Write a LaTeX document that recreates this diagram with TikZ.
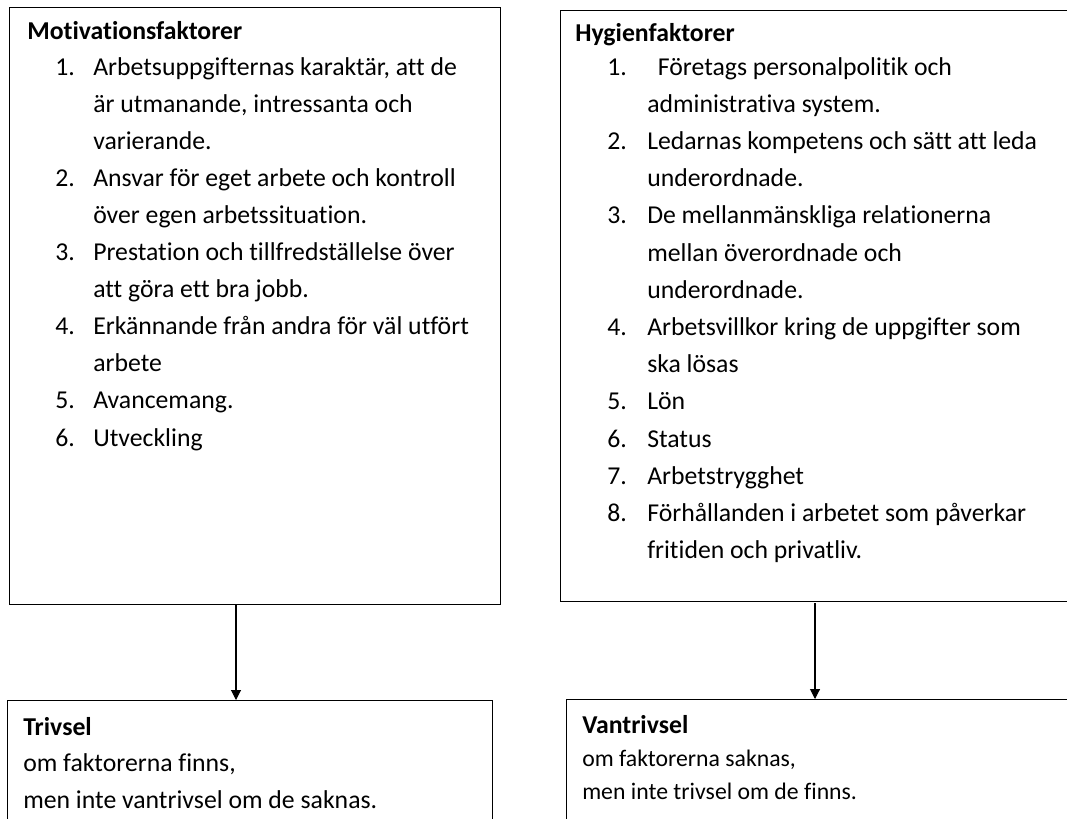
\documentclass[tikz,border=0pt]{standalone}
\usepackage{fontspec}
\setmainfont{Carlito}[Ligatures=NoCommon]
\usetikzlibrary{arrows.meta}

\begin{document}
\begin{tikzpicture}[x=0.75pt,y=-0.75pt,
  box/.style={draw,line width=1pt,rectangle,anchor=north west,inner sep=0},
  line/.style={anchor=base west,inner sep=0,font=\fontsize{19.3pt}{27.9pt}\selectfont},
  head/.style={line,font=\fontsize{19.3pt}{27.9pt}\selectfont\bfseries},
  note/.style={line,font=\fontsize{17.8pt}{24.75pt}\selectfont},
  flow/.style={-{Triangle[length=7.5pt,width=7.5pt]},line width=0.8pt}]

\useasboundingbox (0,0) rectangle (1067,818);
\clip (0,0) rectangle (1067,818);

% boxes
\node[box,minimum width=491*0.75pt,minimum height=597*0.75pt] (mot) at (9,7) {};
\node[box,minimum width=530*0.75pt,minimum height=591*0.75pt] (hyg) at (560,10) {};
\node[box,minimum width=485*0.75pt,minimum height=150*0.75pt] (triv) at (7,700) {};
\node[box,minimum width=520*0.75pt,minimum height=150*0.75pt] (vant) at (566,699) {};

% motivationsfaktorer
\node[head] (mot-h) at (27,39) {Motivationsfaktorer};
\foreach \n/\k in {1/0,2/3,3/5,4/7,5/9,6/10}
    \node[line] (mot-n\n) at (55,75+37.1*\k) {\n.};
\foreach \k/\txt in {0/{Arbetsuppgifternas karaktär, att de},
                    1/{är utmanande, intressanta och},
                    2/{varierande.},
                    3/{Ansvar för eget arbete och kontroll},
                    4/{över egen arbetssituation.},
                    5/{Prestation och tillfredställelse över},
                    6/{att göra ett bra jobb.},
                    7/{Erkännande från andra för väl utfört},
                    8/{arbete},
                    9/{Avancemang.},
                    10/{Utveckling}}
    \node[line] (mot-\k) at (93,75+37.1*\k) {\txt};

% hygienfaktorer
\node[head] (hyg-h) at (575,41) {Hygienfaktorer};
\foreach \n/\k in {1/0,2/2,3/4,4/7,5/9,6/10,7/11,8/12}
    \node[line] (hyg-n\n) at (607,75+37.2*\k) {\n.};
\foreach \k/\txt in {0/{\hspace{8pt}Företags personalpolitik och},
                    1/{administrativa system.},
                    2/{Ledarnas kompetens och sätt att leda},
                    3/{underordnade.},
                    4/{De mellanmänskliga relationerna},
                    5/{mellan överordnade och},
                    6/{underordnade.},
                    7/{Arbetsvillkor kring de uppgifter som},
                    8/{ska lösas},
                    9/{Lön},
                    10/{Status},
                    11/{Arbetstrygghet},
                    12/{Förhållanden i arbetet som påverkar},
                    13/{fritiden och privatliv.}}
    \node[line] (hyg-\k) at (647,75+37.2*\k) {\txt};

% effekter
\node[head] (triv-h) at (23,735) {Trivsel};
\node[line] (triv-1) at (23,771) {om faktorerna finns,};
\node[line] (triv-2) at (23,808) {men inte vantrivsel om de saknas.};

\node[head] (vant-h) at (582,733) {Vantrivsel};
\node[note] (vant-1) at (582,766) {om faktorerna saknas,};
\node[note] (vant-2) at (582,799) {men inte trivsel om de finns.};

% pilar
\draw[flow] (mot.south -| 236,0) -- (triv.north -| 236,0);
\draw[flow] (815,603) coordinate (hyg-out) -- (vant.north -| hyg-out);

\end{tikzpicture}
\end{document}
